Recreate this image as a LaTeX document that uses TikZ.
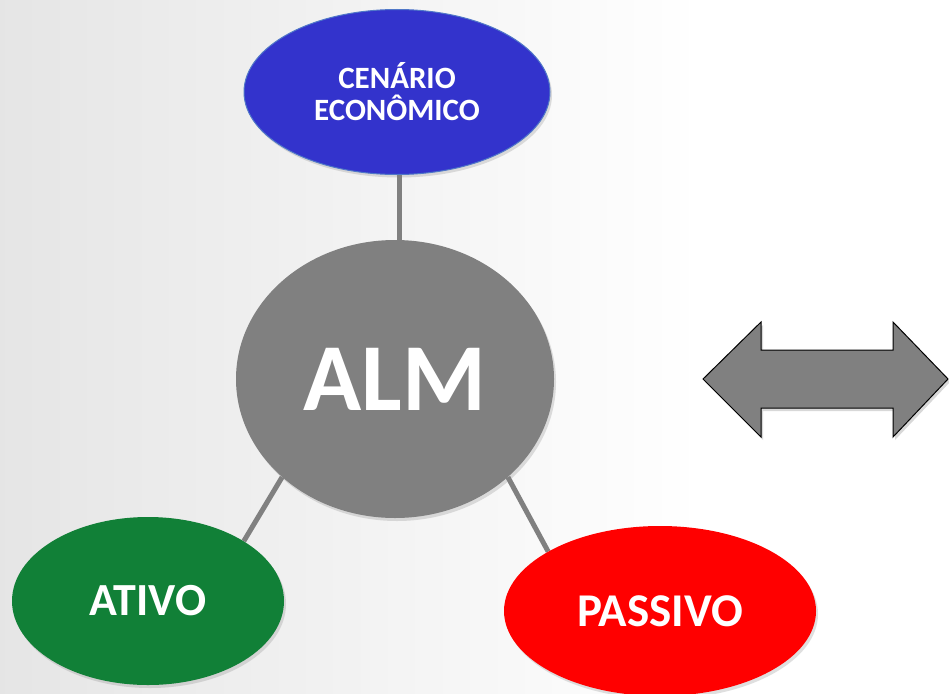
\documentclass[tikz,border=0pt]{standalone}
\usepackage{fontspec}
\setmainfont{Carlito}
\usetikzlibrary{shapes.geometric,shadows}
\definecolor{bgL}{RGB}{212,212,212}
\definecolor{cenblue}{RGB}{51,51,204}
\definecolor{cenedge}{RGB}{80,120,200}
\definecolor{almgray}{RGB}{128,128,128}
\definecolor{atgreen}{RGB}{17,128,55}
\definecolor{pasred}{RGB}{255,0,0}
\pgfdeclarehorizontalshading{bgshade}{100bp}{color(0bp)=(bgL); color(62bp)=(white); color(100bp)=(white)}
\pgfdeclarelayer{bg}
\pgfdeclarelayer{lines}
\pgfsetlayers{bg,lines,main}
\tikzset{
  blob/.style={ellipse, inner sep=0pt, text=white, font=\bfseries,
    drop shadow={opacity=0.25, shadow xshift=2pt, shadow yshift=-3pt}},
  link/.style={draw=almgray, line width=5pt},
  bigarrow/.style={fill=almgray, draw=black, line width=1pt, line join=miter,
    drop shadow={opacity=0.3, shadow xshift=2pt, shadow yshift=-3pt}}
}
\begin{document}
\begin{tikzpicture}[x=1pt,y=-1pt]
\useasboundingbox (0,0) rectangle (949,693);
\begin{pgfonlayer}{bg}
\shade[shading=bgshade] (0,0) rectangle (949,693);
\end{pgfonlayer}
\node[blob, fill=cenblue, draw=cenedge, line width=1pt, minimum width=306pt, minimum height=165pt,
  align=center, font=\bfseries\fontsize{31}{32}\selectfont] (cen) at (397,92) {CENÁRIO\\ECONÔMICO};
\node[blob, fill=almgray, minimum width=318pt, minimum height=278pt,
  font=\bfseries\fontsize{96}{100}\selectfont] (alm) at (395,379) {ALM};
\node[blob, fill=atgreen, minimum width=272pt, minimum height=168pt,
  font=\bfseries\fontsize{46}{50}\selectfont] (ativo) at (148,601) {ATIVO};
\node[blob, fill=pasred, minimum width=312pt, minimum height=170pt,
  font=\bfseries\fontsize{47}{50}\selectfont] (passivo) at (660,611) {PASSIVO};
\begin{pgfonlayer}{lines}
\draw[link] ([xshift=2pt]cen.south) -- ([xshift=4pt]alm.north);
\draw[link] (alm.221) -- (ativo.32);
\draw[link] (alm.319) -- (passivo.152);
\end{pgfonlayer}
\draw[bigarrow] (703,379) -- (761,322) -- (761,350) -- (893,350) -- (893,322) -- (948,379)
  -- (893,437) -- (893,408) -- (761,408) -- (761,437) -- cycle;
\end{tikzpicture}
\end{document}
